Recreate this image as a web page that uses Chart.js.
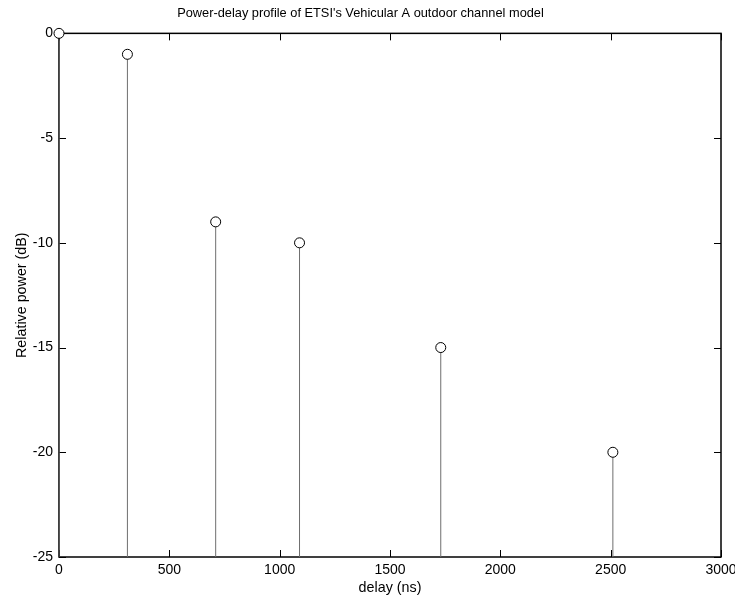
<!DOCTYPE html>
<html>
<head>
<meta charset="utf-8">
<script src="https://cdn.jsdelivr.net/npm/chart.js@4/dist/chart.umd.min.js"></script>
<style>
  html, body { margin: 0; padding: 0; background: #fff; }
  #wrap { width: 735px; height: 596px; }
</style>
</head>
<body>
<div id="wrap"><canvas id="chart"></canvas></div>
<script>
// ETSI Vehicular A taps
const delays = [0, 310, 710, 1090, 1730, 2510];   // ns
const powers = [0, -1, -9, -10, -15, -20];        // dB
const baseValue = -25;
const xTicks = [0, 500, 1000, 1500, 2000, 2500, 3000];
const yTicks = [-25, -20, -15, -10, -5, 0];

// stems: one segment per tap, separated by gaps
const stemPoints = delays.flatMap((d, i) => [
  { x: d, y: baseValue },
  { x: d, y: powers[i] },
  { x: d, y: null }
]);
const markerPoints = delays.map((d, i) => ({ x: d, y: powers[i] }));

// box around the axes plus inward tick marks (matlab style)
const boxTicks = {
  id: 'boxTicks',
  beforeDatasetsDraw(chart) {
    const { ctx, chartArea: a, scales: { x, y } } = chart;
    const len = 7;
    ctx.save();
    ctx.strokeStyle = '#000';
    ctx.lineWidth = 1;
    ctx.beginPath();
    xTicks.forEach(v => {
      const px = Math.round(x.getPixelForValue(v)) + 0.5;
      ctx.moveTo(px, a.bottom); ctx.lineTo(px, a.bottom - len);
      ctx.moveTo(px, a.top); ctx.lineTo(px, a.top + len);
    });
    yTicks.forEach(v => {
      const py = Math.round(y.getPixelForValue(v)) + 0.5;
      ctx.moveTo(a.left, py); ctx.lineTo(a.left + len, py);
      ctx.moveTo(a.right, py); ctx.lineTo(a.right - len, py);
    });
    ctx.stroke();
    ctx.lineWidth = 1.5;
    ctx.strokeRect(a.left, a.top, a.right - a.left, a.bottom - a.top);
    ctx.restore();
  }
};

Chart.defaults.font.family = '"Liberation Sans", Arial, sans-serif';
Chart.defaults.font.size = 14;
Chart.defaults.color = '#000';

new Chart(document.getElementById('chart'), {
  type: 'scatter',
  data: {
    datasets: [
      {
        label: 'markers',
        data: markerPoints,
        pointStyle: 'circle',
        pointRadius: 5,
        pointBorderWidth: 1,
        pointBorderColor: '#000',
        pointBackgroundColor: '#fff',
        showLine: false,
        clip: false,
        order: 0
      },
      {
        label: 'stems',
        data: stemPoints,
        showLine: true,
        spanGaps: false,
        pointRadius: 0,
        borderColor: '#6e6e6e',
        borderWidth: 1,
        order: 1
      }
    ]
  },
  options: {
    responsive: true,
    maintainAspectRatio: false,
    animation: false,
    layout: { padding: { left: 0, right: 14, top: 0, bottom: 0 } },
    plugins: {
      legend: { display: false },
      tooltip: { enabled: false },
      title: {
        display: true,
        text: "Power-delay profile of ETSI's Vehicular A outdoor channel model",
        font: { size: 12.8, weight: 'normal' },
        padding: { top: 6, bottom: 12 }
      }
    },
    scales: {
      x: {
        type: 'linear',
        min: 0,
        max: 3000,
        afterBuildTicks: s => { s.ticks = xTicks.map(v => ({ value: v })); },
        afterFit: s => { s.height = 39; s.paddingLeft = 0; s.paddingRight = 0; },
        grid: { display: false },
        border: { display: false },
        ticks: { padding: -3, maxRotation: 0, font: { size: 14 }, callback: v => String(v) },
        title: { display: true, text: 'delay (ns)', font: { size: 14.3 }, padding: { top: 0, bottom: -1 } }
      },
      y: {
        type: 'linear',
        min: -25,
        max: 0,
        afterBuildTicks: s => { s.ticks = yTicks.map(v => ({ value: v })); },
        afterFit: s => { s.width = 59; s.paddingTop = 0; s.paddingBottom = 0; },
        grid: { display: false },
        border: { display: false },
        ticks: { padding: -2, font: { size: 14 }, callback: v => String(v) },
        title: { display: true, text: 'Relative power (dB)', font: { size: 14.3 }, padding: { top: 13, bottom: 0 } }
      }
    }
  },
  plugins: [boxTicks]
});
</script>
</body>
</html>
